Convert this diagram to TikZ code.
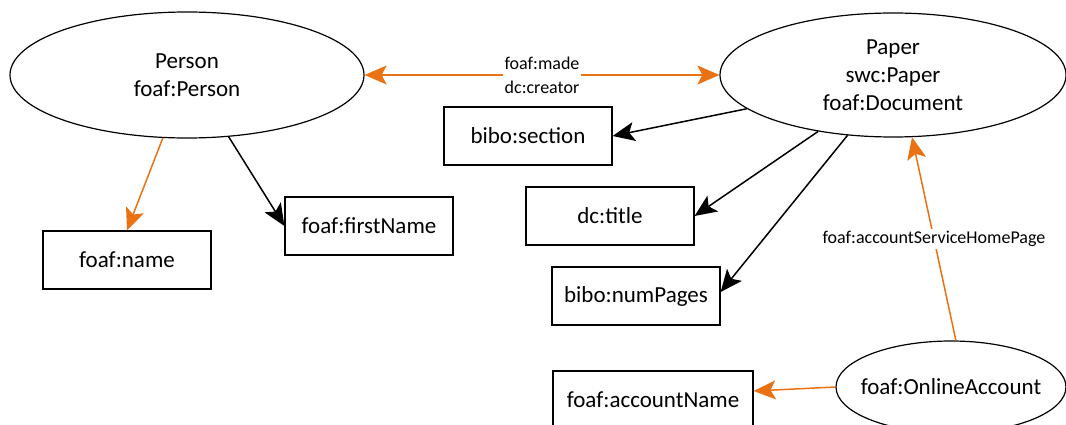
\documentclass[tikz,border=0pt]{standalone}
\usepackage{fontspec}
\setmainfont{Carlito}
\usetikzlibrary{arrows.meta,shapes.geometric}
\definecolor{rdforange}{RGB}{234,114,18}
\tikzset{
  cls/.style={ellipse,draw=black,line width=1.2pt,inner sep=0pt,align=center,
    font=\fontsize{23}{28}\selectfont},
  prop/.style={rectangle,draw=black,line width=1.2pt,inner sep=0pt,
    minimum width=168,minimum height=58,font=\fontsize{23}{28}\selectfont},
  tipshape/.style={-{Stealth[length=22pt,width=19pt,inset=5pt]}},
  blk/.style={tipshape,line width=1.5pt,draw=black},
  orgone/.style={tipshape,line width=1.5pt,draw=rdforange,fill=rdforange},
  lbl/.style={fill=white,inner sep=2pt,align=center,text=black,
    font=\fontsize{18}{24}\selectfont}
}
\begin{document}
\begin{tikzpicture}[x=1pt,y=-1pt]
  \useasboundingbox (0,0) rectangle (1066,425);
  \clip (0,0) rectangle (1066,425);

  % classes
  \node[cls,minimum width=354,minimum height=126] (person) at (187,75) {Person\\foaf:Person};
  \node[cls,minimum width=346,minimum height=124] (paper) at (893,75) {Paper\\swc:Paper\\foaf:Document};
  \node[cls,inner xsep=-11pt,minimum width=230,minimum height=92] (online) at (951,387) {foaf:OnlineAccount};

  % properties
  \node[prop] (name) at (127,260) {foaf:name};
  \node[prop] (first) at (369,226) {foaf:firstName};
  \node[prop] (section) at (528,136) {bibo:section};
  \node[prop] (title) at (610,216) {dc:title};
  \node[prop] (pages) at (636,296) {bibo:numPages};
  \node[prop,minimum width=200] (acct) at (653,400) {foaf:accountName};

  % person links
  \draw[line width=1.5pt,draw=rdforange,
    {Stealth[length=22pt,width=19pt,inset=5pt,fill=rdforange]}-{Stealth[length=22pt,width=19pt,inset=5pt,fill=rdforange]}]
    (person.east) -- node[lbl] {foaf:made\\dc:creator} (paper.west);
  \draw[orgone] (person.-111) -- (name.north);
  \draw[blk,fill=black] (person.-56) -- (first.west);

  % paper links
  \draw[blk,fill=black] (paper.-167.6) -- (section.east);
  \draw[blk,fill=black] (paper.-143) -- (title.east);
  \draw[blk,fill=black] (paper.-127) -- ([yshift=4pt]pages.east);

  % account links
  \draw[orgone] (online.84) -- node[lbl] {foaf:accountServiceHomePage} (paper.-73);
  \draw[orgone] (online.west) -- ([yshift=9pt]acct.east);
\end{tikzpicture}
\end{document}
